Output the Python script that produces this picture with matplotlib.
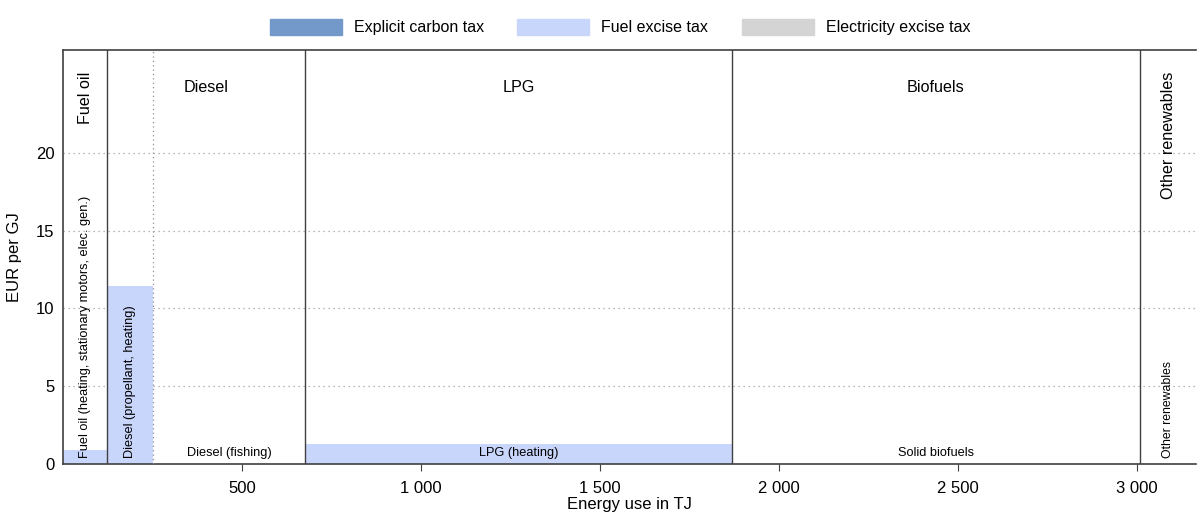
import numpy as np
import matplotlib.pyplot as plt
from matplotlib.patches import Patch

plt.rcParams['font.family'] = ['Liberation Sans', 'DejaVu Sans']

# sub-categories: widths in TJ, fuel excise tax in EUR per GJ
sub_labels = ["Fuel oil (heating, stationary motors, elec. gen.)", "Diesel (propellant, heating)",
              "Diesel (fishing)", "LPG (heating)", "Solid biofuels", "Other renewables"]
energy_use = [123, 128, 425, 1193, 1139, 160]
carbon_tax = [0, 0, 0, 0, 0, 0]
fuel_excise = [0.9, 11.45, 0, 1.29, 0, 0]
elec_excise = [0, 0, 0, 0, 0, 0]
sub_group = [0, 1, 1, 2, 3, 4]
sub_rotated = [True, True, False, False, False, True]

groups = ["Fuel oil", "Diesel", "LPG", "Biofuels", "Other renewables"]
group_rotated = [True, False, False, False, True]

c_carbon = "#7299c9"
c_fuel = "#c9d6fb"
c_elec = "#d4d4d4"

fig = plt.figure(figsize=(11.97, 5.18), dpi=100)
ax = fig.add_axes([63 / 1197, 1 - 464 / 518, 1133 / 1197, 414 / 518])

lefts = np.concatenate([[0], np.cumsum(energy_use)[:-1]])
rights = lefts + np.array(energy_use)
ax.bar(lefts, carbon_tax, width=energy_use, align='edge', color=c_carbon, linewidth=0)
ax.bar(lefts, fuel_excise, width=energy_use, bottom=carbon_tax, align='edge', color=c_fuel, linewidth=0)
ax.bar(lefts, elec_excise, width=energy_use, bottom=np.array(carbon_tax) + np.array(fuel_excise),
       align='edge', color=c_elec, linewidth=0)

ymax = 26.6
ax.set_xlim(0, 3165)
ax.set_ylim(0, ymax)

# dividers
for i in range(len(sub_labels) - 1):
    if sub_group[i] != sub_group[i + 1]:
        ax.axvline(rights[i], color="#404040", lw=1.0, zorder=3)
    else:
        ax.axvline(rights[i], color="#909090", lw=0.9, ls=(0, (1, 2.5)), zorder=3)

# sub-category labels
for i, lab in enumerate(sub_labels):
    xc = (lefts[i] + rights[i]) / 2
    if sub_rotated[i]:
        fs = 8.8 if i == 5 else 9.2
        ax.text(xc, 0.4, lab, rotation=90, ha='center', va='bottom', fontsize=fs, zorder=4)
    else:
        ax.text(xc, 0.35, lab, ha='center', va='bottom', fontsize=9.2, zorder=4)

# group labels
for g, name in enumerate(groups):
    idx = [i for i in range(len(sub_group)) if sub_group[i] == g]
    x0 = lefts[idx[0]]
    x1 = rights[idx[-1]]
    xc = (x0 + x1) / 2
    if group_rotated[g]:
        ax.text(xc, ymax - 1.4, name, rotation=90, ha='center', va='top', fontsize=11.6)
    else:
        ax.text(xc, ymax - 2.4, name, ha='center', va='center', fontsize=11.6)

ax.set_yticks([0, 5, 10, 15, 20])
ax.set_xticks([500, 1000, 1500, 2000, 2500, 3000])
ax.set_xticklabels(["500", "1 000", "1 500", "2 000", "2 500", "3 000"])
ax.tick_params(axis='y', length=0, labelsize=12, pad=6)
ax.tick_params(axis='x', length=5, labelsize=12, direction='out', color='#404040', pad=7)
ax.yaxis.grid(True, color='#a0a0a0', ls=(0, (1, 3)), lw=0.9)
ax.set_axisbelow(True)
for s in ['left', 'bottom', 'top']:
    ax.spines[s].set_color('#404040')
    ax.spines[s].set_linewidth(1.2)
ax.spines['right'].set_visible(False)
ax.set_ylabel("EUR per GJ", fontsize=12, labelpad=10)
ax.set_xlabel("Energy use in TJ", fontsize=12, labelpad=1)

handles = [Patch(color=c_carbon, label="Explicit carbon tax"),
           Patch(color=c_fuel, label="Fuel excise tax"),
           Patch(color=c_elec, label="Electricity excise tax")]
fig.legend(handles=handles, loc='center', bbox_to_anchor=(0.518, 0.948), ncol=3, frameon=False,
           fontsize=11.5, handlelength=4.5, handleheight=1.2, columnspacing=2.1, handletextpad=0.75)

fig.savefig("out.png", dpi=100)
